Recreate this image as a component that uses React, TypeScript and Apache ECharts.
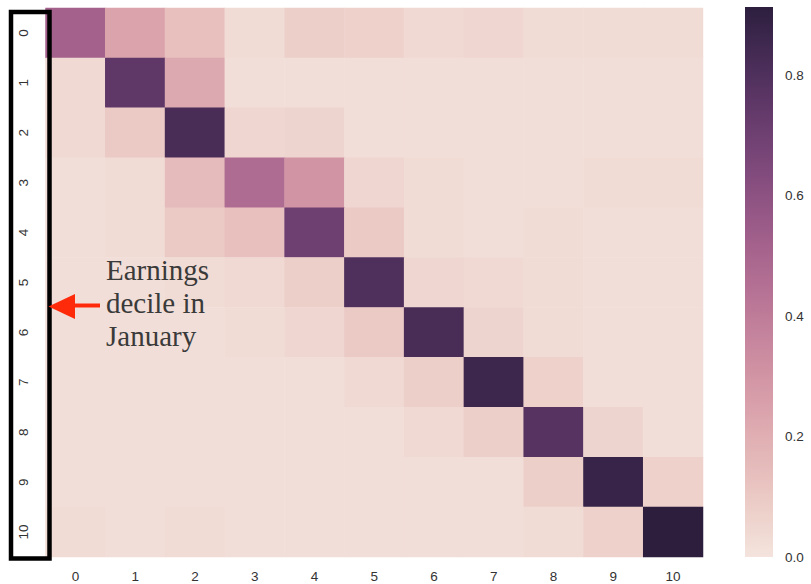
import React, { useEffect, useRef } from "react";
import * as echarts from "echarts";

const xLabels = ["0", "1", "2", "3", "4", "5", "6", "7", "8", "9", "10"];
const yLabels = ["0", "1", "2", "3", "4", "5", "6", "7", "8", "9", "10"];

// rows: earnings decile in January (top to bottom), columns: decile later
const row0 = [0.52, 0.24, 0.13, 0.03, 0.08, 0.07, 0.04, 0.05, 0.03, 0.03, 0.03];
const row1 = [0.04, 0.75, 0.22, 0.02, 0.02, 0.02, 0.02, 0.02, 0.02, 0.02, 0.02];
const row2 = [0.04, 0.1, 0.82, 0.05, 0.06, 0.02, 0.02, 0.02, 0.02, 0.02, 0.02];
const row3 = [0.02, 0.03, 0.15, 0.47, 0.3, 0.05, 0.03, 0.02, 0.02, 0.03, 0.03];
const row4 = [0.02, 0.03, 0.1, 0.13, 0.7, 0.1, 0.03, 0.02, 0.03, 0.02, 0.02];
const row5 = [0.02, 0.02, 0.03, 0.04, 0.08, 0.8, 0.05, 0.04, 0.03, 0.02, 0.02];
const row6 = [0.02, 0.02, 0.02, 0.03, 0.05, 0.1, 0.82, 0.06, 0.03, 0.02, 0.02];
const row7 = [0.02, 0.02, 0.02, 0.02, 0.02, 0.04, 0.08, 0.86, 0.07, 0.02, 0.02];
const row8 = [0.02, 0.02, 0.02, 0.02, 0.02, 0.02, 0.04, 0.08, 0.78, 0.06, 0.02];
const row9 = [0.02, 0.02, 0.02, 0.02, 0.02, 0.02, 0.02, 0.02, 0.08, 0.88, 0.07];
const row10 = [0.03, 0.02, 0.03, 0.02, 0.02, 0.02, 0.02, 0.02, 0.03, 0.07, 0.913];

const rows = [row0, row1, row2, row3, row4, row5, row6, row7, row8, row9, row10];

const colorTicks = [0, 0.2, 0.4, 0.6, 0.8];
const vMin = 0;
const vMax = 0.913;

// seaborn-style cubehelix palette (light -> dark)
function cubehelix(x: number): string {
  const gamma = 1, hue = 0.8, start = 0, rot = 0.4;
  const xg = Math.pow(x, gamma);
  const a = (hue * xg * (1 - xg)) / 2;
  const phi = 2 * Math.PI * (start / 3 + rot * x);
  const c = Math.cos(phi), s = Math.sin(phi);
  const r = xg + a * (-0.14861 * c + 1.78277 * s);
  const g = xg + a * (-0.29227 * c - 0.90649 * s);
  const b = xg + a * (1.97294 * c);
  const to = (v: number) => Math.round(Math.max(0, Math.min(1, v)) * 255);
  return `rgb(${to(r)},${to(g)},${to(b)})`;
}
const LIGHT = 0.91, DARK = 0.15, NSTOPS = 24;
const palette: string[] = [];
for (let i = 0; i < NSTOPS; i++) {
  palette.push(cubehelix(LIGHT + ((DARK - LIGHT) * i) / (NSTOPS - 1)));
}

export default function App() {
  const ref = useRef<HTMLDivElement>(null);
  useEffect(() => {
    if (!ref.current) return;
    const chart = echarts.init(ref.current, null, { renderer: "svg" });
    const data: number[][] = [];
    rows.forEach((r, y) => r.forEach((v, x) => data.push([x, y, v])));
    const labelStyle = { color: "#333", fontSize: 13.5, fontFamily: "Liberation Sans, Arial, sans-serif" };
    chart.setOption({
      animation: false,
      backgroundColor: "#fff",
      grid: [
        { left: 45.5, top: 8, width: 657.5, height: 549, show: false },
        {
          left: 745, top: 7, width: 28, height: 550, show: true, borderWidth: 0,
          backgroundColor: new echarts.graphic.LinearGradient(0, 1, 0, 0,
            palette.map((c, i) => ({ offset: i / (palette.length - 1), color: c }))),
        },
      ],
      xAxis: [
        {
          type: "category", data: xLabels, gridIndex: 0,
          axisLine: { show: false }, axisTick: { show: false }, splitLine: { show: false },
          axisLabel: { ...labelStyle, margin: 12 },
        },
        { type: "value", gridIndex: 1, show: false, min: 0, max: 1 },
      ],
      yAxis: [
        {
          type: "category", data: yLabels, gridIndex: 0, inverse: true,
          axisLine: { show: false }, axisTick: { show: false }, splitLine: { show: false },
          axisLabel: { ...labelStyle, rotate: 90, margin: 15 },
        },
        {
          type: "value", gridIndex: 1, position: "right", min: vMin, max: vMax, interval: 0.2,
          axisLine: { show: false }, axisTick: { show: false }, splitLine: { show: false },
          axisLabel: {
            ...labelStyle, margin: 12,
            formatter: (v: number) => (colorTicks.some((t) => Math.abs(t - v) < 1e-6) ? v.toFixed(1) : ""),
          },
        },
      ],
      visualMap: {
        show: false, type: "continuous", min: vMin, max: vMax, seriesIndex: 0,
        inRange: { color: palette },
      },
      series: [
        {
          type: "heatmap", xAxisIndex: 0, yAxisIndex: 0, data,
          itemStyle: { borderWidth: 0 },
          emphasis: { disabled: true },
        },
      ],
      graphic: [
        {
          type: "rect", shape: { x: 11, y: 12, width: 38.5, height: 546.5 },
          style: { fill: null, stroke: "#000", lineWidth: 4.5 }, z: 100,
        },
        {
          type: "line", shape: { x1: 72, y1: 305.5, x2: 100, y2: 305.5 },
          style: { stroke: "#ff2a0a", lineWidth: 4 }, z: 100,
        },
        {
          type: "polygon", shape: { points: [[48.5, 306.5], [75, 294], [75, 319]] },
          style: { fill: "#ff2a0a" }, z: 100,
        },
        {
          type: "text", x: 106, y: 253, z: 100,
          style: {
            text: "Earnings\ndecile in\nJanuary", fill: "#3a3a3a", fontSize: 29, lineHeight: 33,
            fontFamily: "Liberation Serif, Times New Roman, serif", verticalAlign: "top", align: "left",
          },
        },
      ],
    });
    return () => chart.dispose();
  }, []);
  return <div ref={ref} style={{ width: 811, height: 584, position: "absolute", left: 0, top: 0 }} />;
}
